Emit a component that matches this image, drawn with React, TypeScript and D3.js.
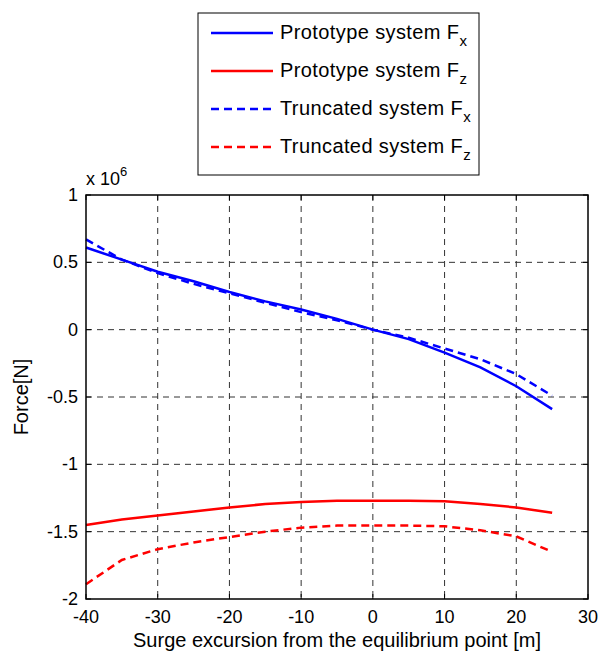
import React from "react";
import * as d3 from "d3";

const xs = [-40, -35, -30, -25, -20, -15, -10, -5, 0, 5, 10, 15, 20, 25];
const protoFx = [0.61, 0.52, 0.43, 0.36, 0.28, 0.21, 0.15, 0.08, 0, -0.07, -0.17, -0.28, -0.42, -0.59];
const protoFz = [-1.45, -1.41, -1.38, -1.35, -1.32, -1.295, -1.28, -1.27, -1.27, -1.27, -1.275, -1.295, -1.32, -1.36];
const truncFx = [0.67, 0.52, 0.42, 0.34, 0.27, 0.2, 0.13, 0.07, 0, -0.06, -0.14, -0.22, -0.33, -0.49];
const truncFz = [-1.89, -1.71, -1.63, -1.58, -1.54, -1.5, -1.47, -1.455, -1.455, -1.455, -1.46, -1.49, -1.535, -1.65];

const xTicks = [-40, -30, -20, -10, 0, 10, 20, 30];
const yTicks = [1, 0.5, 0, -0.5, -1, -1.5, -2];

const seriesDefs = [
  { name: "Prototype system F", sub: "x", values: protoFx, color: "#0000ff", dash: "" },
  { name: "Prototype system F", sub: "z", values: protoFz, color: "#ff0000", dash: "" },
  { name: "Truncated system F", sub: "x", values: truncFx, color: "#0000ff", dash: "8,5" },
  { name: "Truncated system F", sub: "z", values: truncFz, color: "#ff0000", dash: "8,5" },
];

export default function App() {
  const L = 86, R = 588, T = 195, B = 599;
  const x = d3.scaleLinear().domain([-40, 30]).range([L, R]);
  const y = d3.scaleLinear().domain([-2, 1]).range([B, T]);
  const line = d3.line<[number, number]>().x(d => x(d[0])).y(d => y(d[1]));
  const font = "'Liberation Sans', Arial, sans-serif";
  const fsTick = 18;
  const fsLab = 20;
  const fsLeg = 20;
  const legY = [33, 71, 109, 147];
  return (
    <svg width={600} height={653} style={{ position: "absolute", left: 0, top: 0, background: "#fff" }} fontFamily={font}>
      <rect x={0} y={0} width={600} height={653} fill="#fff" />
      {xTicks.slice(1, -1).map(t => (
        <line key={"gx" + t} x1={x(t)} x2={x(t)} y1={T} y2={B} stroke="#333" strokeWidth={1} strokeDasharray="6,5" />
      ))}
      {yTicks.slice(1, -1).map(t => (
        <line key={"gy" + t} x1={L} x2={R} y1={y(t)} y2={y(t)} stroke="#333" strokeWidth={1} strokeDasharray="6,5" />
      ))}
      {xTicks.map(t => (
        <g key={"tx" + t}>
          <line x1={x(t)} x2={x(t)} y1={B} y2={B - 5} stroke="#000" />
          <line x1={x(t)} x2={x(t)} y1={T} y2={T + 5} stroke="#000" />
          <text x={x(t)} y={623} textAnchor="middle" fontSize={fsTick}>{t}</text>
        </g>
      ))}
      {yTicks.map(t => (
        <g key={"ty" + t}>
          <line x1={L} x2={L + 5} y1={y(t)} y2={y(t)} stroke="#000" />
          <line x1={R} x2={R - 5} y1={y(t)} y2={y(t)} stroke="#000" />
          <text x={L - 8} y={y(t) + 6} textAnchor="end" fontSize={fsTick}>{t}</text>
        </g>
      ))}
      {seriesDefs.map((s, i) => (
        <path key={"s" + i} d={line(xs.map((v, j) => [v, s.values[j]] as [number, number])) || ""}
          fill="none" stroke={s.color} strokeWidth={2.5} strokeDasharray={s.dash} />
      ))}
      <rect x={L} y={T} width={R - L} height={B - T} fill="none" stroke="#000" strokeWidth={1.5} />
      <text x={86} y={185} fontSize={fsTick}>x 10<tspan dy={-9} fontSize={13}>6</tspan></text>
      <text x={(L + R) / 2} y={647} textAnchor="middle" fontSize={fsLab}>Surge excursion from the equilibrium point [m]</text>
      <text transform={`translate(28,${(T + B) / 2}) rotate(-90)`} textAnchor="middle" fontSize={fsLab}>Force[N]</text>
      <rect x={198} y={13} width={281} height={162} fill="#fff" stroke="#000" strokeWidth={1} />
      {seriesDefs.map((s, i) => (
        <g key={"l" + i}>
          <line x1={211} x2={273} y1={legY[i]} y2={legY[i]} stroke={s.color} strokeWidth={2.5} strokeDasharray={s.dash} />
          <text x={280} y={legY[i] + 6} fontSize={fsLeg} letterSpacing={0.4}>{s.name}<tspan dy={7} fontSize={15}>{s.sub}</tspan></text>
        </g>
      ))}
    </svg>
  );
}
